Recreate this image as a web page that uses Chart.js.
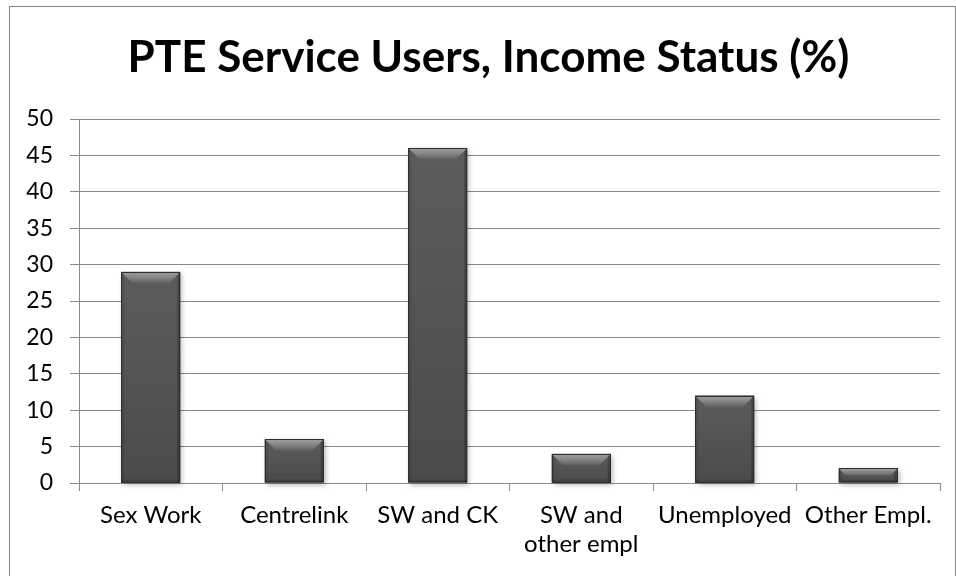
<!DOCTYPE html>
<html>
<head>
<meta charset="utf-8">
<title>PTE Service Users, Income Status</title>
<script src="https://cdn.jsdelivr.net/npm/chart.js@4/dist/chart.umd.min.js"></script>
<style>
  html, body { margin: 0; padding: 0; background: #fff; overflow: hidden; }
  #frame {
    position: absolute;
    left: 9px;
    top: 6px;
    width: 945px;
    height: 580px;
    border: 1px solid #868686;
  }
  canvas { display: block; }
</style>
</head>
<body>
<div id="frame"><canvas id="chart" width="945" height="580"></canvas></div>
<script>
  const categories = ["Sex Work", "Centrelink", "SW and CK", ["SW and", "other empl"], "Unemployed", "Other Empl."];
  const percentages = [29, 6, 46, 4, 12, 2];
  const yTicks = [0, 5, 10, 15, 20, 25, 30, 35, 40, 45, 50];
  const chartTitle = "PTE Service Users, Income Status (%)";

  const FONT = "Lato, 'Open Sans', sans-serif";
  const GRID = "#8a8a8a";

  // Title drawn by hand so it can sit slightly right of the canvas centre.
  const headline = {
    id: "headline",
    afterDraw(chart) {
      const ctx = chart.ctx;
      ctx.save();
      ctx.font = "bold 44px " + FONT;
      ctx.fillStyle = "#000";
      ctx.textAlign = "center";
      ctx.textBaseline = "alphabetic";
      ctx.fillText(chartTitle, chart.width / 2 + 6, 65);
      ctx.restore();
    },
  };

  // Bevelled look on each bar: light top facet, thin dark sides and bottom.
  const bevelBars = {
    id: "bevelBars",
    beforeDatasetsDraw(chart) {
      const ctx = chart.ctx;
      chart.getDatasetMeta(0).data.forEach((bar) => {
        const p = bar.getProps(["x", "y", "base", "width"], true);
        const l = p.x - p.width / 2, r = p.x + p.width / 2;
        ctx.save();
        ctx.shadowColor = "rgba(0,0,0,0.3)";
        ctx.shadowBlur = 5;
        ctx.shadowOffsetX = 2;
        ctx.shadowOffsetY = 2;
        ctx.fillStyle = "#444";
        ctx.fillRect(l, p.y, r - l, p.base - p.y);
        ctx.restore();
      });
    },
    afterDatasetsDraw(chart) {
      const ctx = chart.ctx;
      chart.getDatasetMeta(0).data.forEach((bar) => {
        const p = bar.getProps(["x", "y", "base", "width"], true);
        const l = p.x - p.width / 2, r = p.x + p.width / 2;
        const t = p.y, b = p.base;
        const h = b - t;
        const bv = Math.min(11, h / 2);
        const sv = 3;
        ctx.save();

        // body
        const body = ctx.createLinearGradient(0, t, 0, b);
        body.addColorStop(0, "#5c5c5c");
        body.addColorStop(1, "#4b4b4b");
        ctx.fillStyle = body;
        ctx.fillRect(l, t, r - l, h);

        // thin side and bottom facets
        ctx.fillStyle = "rgba(0,0,0,0.10)";
        ctx.fillRect(l, t, sv, h);
        ctx.fillStyle = "rgba(0,0,0,0.22)";
        ctx.fillRect(r - sv, t, sv, h);
        ctx.fillStyle = "rgba(0,0,0,0.12)";
        ctx.fillRect(l, b - sv, r - l, sv);

        // top facet
        const top = ctx.createLinearGradient(0, t, 0, t + bv);
        top.addColorStop(0, "#a0a0a0");
        top.addColorStop(0.5, "#858585");
        top.addColorStop(1, "#626262");
        ctx.fillStyle = top;
        ctx.beginPath();
        ctx.moveTo(l, t); ctx.lineTo(r, t); ctx.lineTo(r - bv, t + bv); ctx.lineTo(l + bv, t + bv);
        ctx.closePath(); ctx.fill();

        ctx.strokeStyle = "#2e2e2e";
        ctx.lineWidth = 1;
        ctx.strokeRect(Math.round(l) + 0.5, Math.round(t) + 0.5, Math.round(r - l) - 1, Math.round(h) - 1);
        ctx.restore();
      });
    },
  };

  new Chart(document.getElementById("chart").getContext("2d"), {
    type: "bar",
    data: {
      labels: categories,
      datasets: [
        {
          label: "Income Status (%)",
          data: percentages,
          backgroundColor: "#555",
          borderWidth: 0,
          barPercentage: 0.41,
          categoryPercentage: 1,
        },
      ],
    },
    options: {
      responsive: false,
      animation: false,
      layout: { padding: { left: 0, right: 15, top: 112, bottom: 0 } },
      plugins: {
        legend: { display: false },
        tooltip: { enabled: false },
        title: { display: false },
      },
      scales: {
        x: {
          grid: {
            offset: true,
            drawOnChartArea: false,
            drawTicks: true,
            tickLength: 8,
            color: GRID,
          },
          border: { color: GRID, width: 1 },
          ticks: {
            color: "#000",
            font: { family: FONT, size: 24 },
            padding: 10,
            maxRotation: 0,
            autoSkip: false,
          },
          afterFit(scale) { scale.height = 104; },
        },
        y: {
          min: 0,
          max: 50,
          afterBuildTicks(scale) { scale.ticks = yTicks.map((v) => ({ value: v })); },
          grid: { color: GRID, lineWidth: 1, tickLength: 9 },
          border: { color: GRID, width: 1 },
          ticks: {
            color: "#000",
            font: { family: FONT, size: 23 },
            padding: 17,
          },
          afterFit(scale) { scale.width = 69; },
        },
      },
    },
    plugins: [bevelBars, headline],
  });
</script>
</body>
</html>
